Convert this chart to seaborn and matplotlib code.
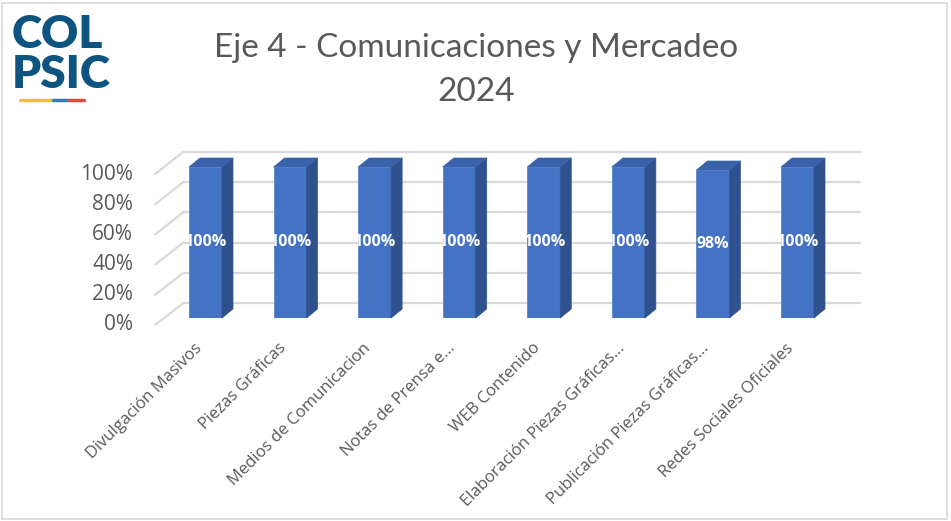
import numpy as np
import pandas as pd
import matplotlib
matplotlib.use('Agg')
import matplotlib.pyplot as plt
from matplotlib.patches import Polygon, Rectangle
from matplotlib.lines import Line2D
from matplotlib.transforms import ScaledTranslation
import seaborn as sns

# ---------- Data ----------
categories = ['Divulgación Masivos', 'Piezas Gráficas', 'Medios de Comunicacion',
              'Notas de Prensa e...', 'WEB Contenido', 'Elaboración Piezas Gráficas...',
              'Publicación Piezas Gráficas...', 'Redes Sociales Oficiales']
values = [1.00, 1.00, 1.00, 1.00, 1.00, 1.00, 0.98, 1.00]
y_ticks = [0.0, 0.2, 0.4, 0.6, 0.8, 1.0]
title = 'Eje 4 - Comunicaciones y Mercadeo\n2024'

df = pd.DataFrame({'cat': categories, 'val': values})

sns.set_theme(style='white')
plt.rcParams['font.family'] = ['Open Sans', 'DejaVu Sans']

W, H = 951, 521
fig = plt.figure(figsize=(W / 100, H / 100), dpi=100)

# axes = front plane of the bars (pixel geometry)
x_left, x_right = 163.2, 839.8
y_bot, y_top = 318, 167
ax = fig.add_axes([x_left / W, (H - y_bot) / H, (x_right - x_left) / W, (y_bot - y_top) / H])
ax.set_xlim(-0.5, len(categories) - 0.5)
ax.set_ylim(0, 1)
px_x = (x_right - x_left) / len(categories)   # pixels per x unit
px_y = (y_bot - y_top)                         # pixels per y unit

front = '#4472c4'
side = '#2f528f'
top = '#3a62ab'
grid_c = '#d9d9d9'
text_c = '#595959'

# gridlines: back wall + perspective diagonals
bdx, bdy = 20 / px_x, 15 / px_y      # back wall offset
fdx, fdy = -8 / px_x, -7 / px_y      # front (axis) plane offset
for v in y_ticks:
    ax.add_line(Line2D([-0.5 + bdx, len(categories) - 0.5 + bdx], [v + bdy, v + bdy],
                       color=grid_c, lw=1.6, clip_on=False, zorder=0))
    ax.add_line(Line2D([-0.5 + fdx, -0.5 + bdx], [v + fdy, v + bdy],
                       color=grid_c, lw=1.6, clip_on=False, zorder=0))
    ax.text(-0.5 + fdx - 22 / px_x, v + fdy, f'{v:.0%}', ha='right', va='center',
            fontsize=15, color=text_c, clip_on=False)

sns.barplot(data=df, x='cat', y='val', color=front, width=0.39, saturation=1,
            edgecolor='#5a84cc', linewidth=0.6, ax=ax, zorder=2)

# pseudo 3D faces
sdx, sdy = 11 / px_x, 9 / px_y
for p, v in zip(ax.patches, values):
    x0 = p.get_x()
    x1 = x0 + p.get_width()
    y1 = p.get_height()
    ax.add_patch(Polygon([(x1, 0), (x1 + sdx, sdy), (x1 + sdx, y1 + sdy), (x1, y1)],
                         closed=True, facecolor=side, edgecolor=side, lw=0.5,
                         clip_on=False, zorder=2))
    ax.add_patch(Polygon([(x0, y1), (x1, y1), (x1 + sdx, y1 + sdy), (x0 + sdx, y1 + sdy)],
                         closed=True, facecolor=top, edgecolor=top, lw=0.5,
                         clip_on=False, zorder=2))
    ax.text(x0 + p.get_width() / 2, v / 2, f'{v:.0%}', ha='center', va='center',
            color='white', fontsize=11.5, fontweight='bold', zorder=3)

ax.set_xlabel('')
ax.set_ylabel('')
ax.set_yticks([])
ax.set_xticks(range(len(categories)))
ax.set_xticklabels(categories, rotation=45, ha='right', va='center',
                   rotation_mode='anchor', fontsize=12, color=text_c)
ax.tick_params(axis='x', length=0, pad=20)
shift = ScaledTranslation(-6 / 100, 0, fig.dpi_scale_trans)
for lbl in ax.get_xticklabels():
    lbl.set_transform(lbl.get_transform() + shift)
for s in ax.spines.values():
    s.set_visible(False)
ax.patch.set_alpha(0)

# title
fig.text(476 / W, 1 - 70 / H, title, ha='center', va='center', fontsize=24,
         color=text_c, family=['Lato', 'DejaVu Sans'], linespacing=1.6)

# logo (approximation)
logo_c = '#0d5580'
fig.text(12 / W, 1 - 35 / H, 'COL', ha='left', va='center', fontsize=33,
         fontweight='heavy', color=logo_c, family=['Lato', 'DejaVu Sans'])
fig.text(12 / W, 1 - 74 / H, 'PSIC', ha='left', va='center', fontsize=33,
         fontweight='heavy', color=logo_c, family=['Lato', 'DejaVu Sans'])
for x0, x1, c in [(20, 51, '#f2c12e'), (53, 68, '#3a78b8'), (69, 84, '#d9503a')]:
    fig.add_artist(Line2D([x0 / W, x1 / W], [1 - 100 / H, 1 - 100 / H], color=c, lw=2.5))

# frame
fig.add_artist(Rectangle((2 / W, 2 / H), 945 / W, 516 / H, fill=False,
                         edgecolor='#d9d9d9', lw=1.2))

plt.savefig('out.png', dpi=100)
